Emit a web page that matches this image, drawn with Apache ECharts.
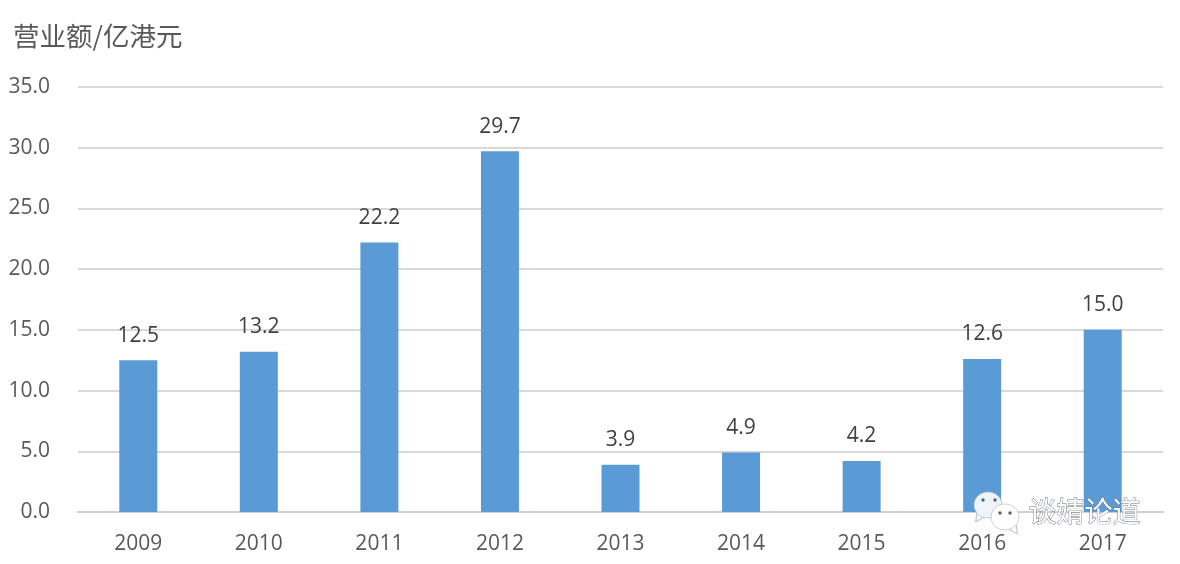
<!DOCTYPE html>
<html>
<head>
<meta charset="utf-8">
<style>html,body{margin:0;padding:0;background:#fff}#c{width:1180px;height:564px}</style>
<script src="https://cdn.jsdelivr.net/npm/echarts@6/dist/echarts.min.js"></script>
</head>
<body>
<div id="c"></div>
<script>
const years = ['2009','2010','2011','2012','2013','2014','2015','2016','2017'];
const revenue = [12.5,13.2,22.2,29.7,3.9,4.9,4.2,12.6,15.0];
const yTitle = '营业额/亿港元';
const watermark = '谈婧论道';
const FONT = '"Open Sans","Noto Sans CJK SC",sans-serif';
const chart = echarts.init(document.getElementById('c'), null, {renderer:'canvas'});
function bubble(cx, cy, rx, ry, fill, tailDir) {
  return [
    {type:'polygon',z:20,shape:{points:tailDir<0?[[cx-ry*0.85,cy+ry*0.55],[cx-ry*0.95,cy+ry*1.3],[cx-ry*0.2,cy+ry*0.9]]:[[cx+ry*0.85,cy+ry*0.55],[cx+ry*0.95,cy+ry*1.3],[cx+ry*0.2,cy+ry*0.9]]},style:{fill:fill,stroke:'#9aa3ad',lineWidth:0.7}},
    {type:'ellipse',z:20,shape:{cx:cx,cy:cy,rx:rx,ry:ry},style:{fill:fill,stroke:'#b5bdc6',lineWidth:0.7}}
  ];
}
function dots(pts){return pts.map(p=>({type:'circle',z:21,shape:{cx:p[0],cy:p[1],r:1.7},style:{fill:'#55606c'}}));}
chart.setOption({
  animation:false,
  backgroundColor:'#fff',
  title:{text:yTitle,left:8,top:18,textStyle:{fontFamily:'"Noto Sans CJK SC",sans-serif',fontSize:26.5,fontWeight:'normal',color:'#595959'}},
  grid:{left:78,right:17,top:87,bottom:52},
  xAxis:{type:'category',data:years,
    axisLine:{show:true,lineStyle:{color:'#d0d0d0',width:2}},
    axisTick:{show:false},
    axisLabel:{fontFamily:FONT,fontSize:21,color:'#595959',margin:22}},
  yAxis:{type:'value',min:0,max:35,interval:5,
    axisLine:{show:false},axisTick:{show:false},
    splitLine:{lineStyle:{color:'#d9d9d9',width:2}},
    axisLabel:{fontFamily:FONT,fontSize:21,color:'#595959',margin:28,padding:[2,0,0,0],formatter:v=>v.toFixed(1)}},
  series:[{type:'bar',data:revenue,barWidth:38,
    itemStyle:{color:'#5b9bd5'},
    label:{show:true,position:'top',distance:14,fontFamily:FONT,fontSize:21,color:'#404040',formatter:p=>p.value.toFixed(1)}}],
  graphic:[
    ...bubble(988,505,14,13,'#eef4fa',-1),
    ...dots([[983,500],[995,500]]),
    ...bubble(1005,517,14,13,'#ffffff',1),
    ...dots([[1000,513],[1010,513]]),
    {type:'text',z:22,left:1028,top:497,style:{text:watermark,fontFamily:'"Noto Sans CJK SC",sans-serif',fontSize:28,fill:'#ffffff',stroke:'#6d7680',lineWidth:0.9}}
  ]
});
</script>
</body>
</html>
